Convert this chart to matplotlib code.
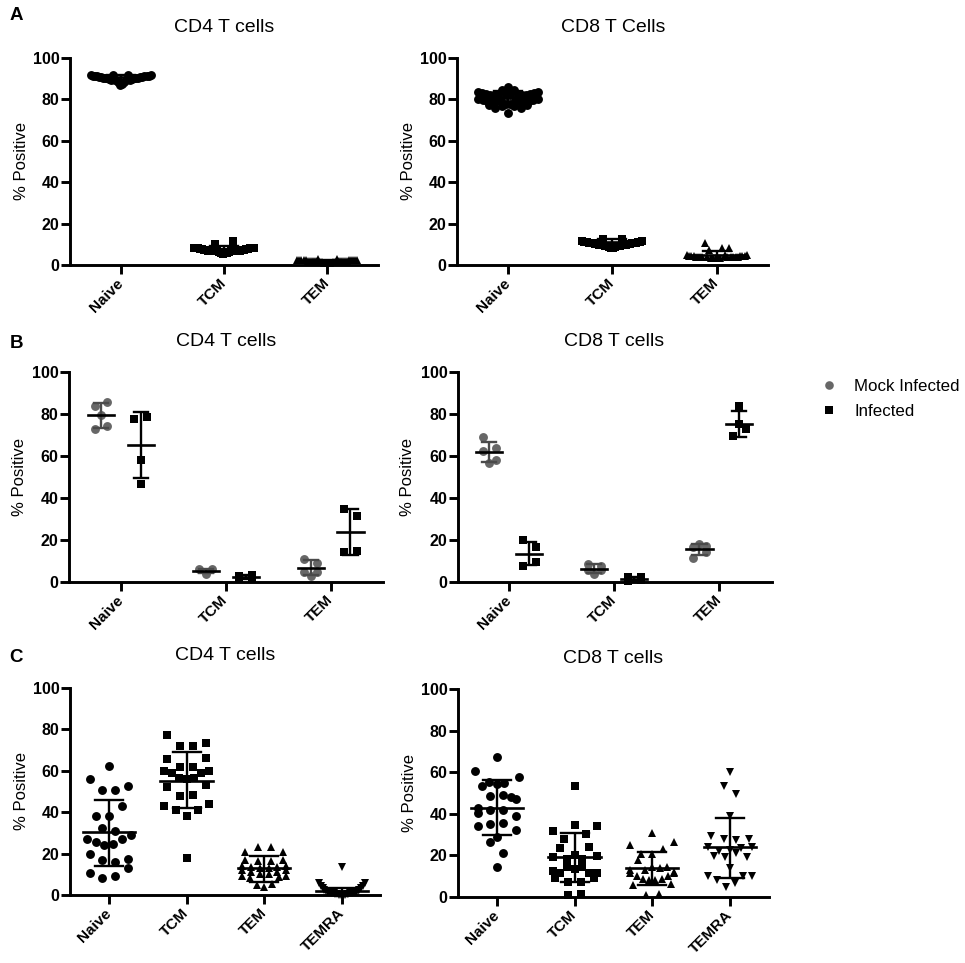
#!/usr/bin/env python3
"""T cell memory subsets: % positive scatter panels A, B, C (Prism style)."""

import matplotlib
matplotlib.use("Agg")
import matplotlib.pyplot as plt
from matplotlib.lines import Line2D

plt.rcParams["font.family"] = ["Liberation Sans", "DejaVu Sans"]

W, H = 965, 963
GRAY = "#676767"
BLACK = "#000000"

# ── Data: each group is a list of rows, listed from the middle of the row out ──
subsets_3 = ["Naive", "TCM", "TEM"]
subsets_4 = ["Naive", "TCM", "TEM", "TEMRA"]
y_ticks = [0, 20, 40, 60, 80, 100]
legend_labels = ["Mock Infected", "Infected"]

a_cd4_naive = [[87, 87.5, 88.5, 88.5, 89.2, 89.2, 92, 92, 89.6, 89.6, 89.9, 89.9, 90.1, 90.1, 90.3, 90.3,
                90.5, 90.5, 90.7, 90.7, 90.9, 90.9, 91.1, 91.1, 91.3, 91.3, 91.5, 91.5, 91.7, 91.7]]
a_cd4_tcm = [[5.4, 5.6, 5.8, 5.8, 6.2, 6.2, 6.6, 6.6, 10, 11.4, 6.6, 6.6, 6.8, 6.8, 7, 7,
              7.2, 7.2, 7.4, 7.4, 7.6, 7.6, 7.8, 7.8, 8, 8, 8.2, 8.2, 8.4, 8.4]]
a_cd4_tem = [[1, 1, 1.2, 1.2, 1.4, 1.4, 1.6, 1.6, 3, 3, 1.7, 1.7, 1.8, 1.8, 1.9, 1.9,
              2, 2, 2.1, 2.1, 2.2, 2.2, 2.3, 2.3, 2.4, 2.4, 2.5, 2.5, 2.6, 2.6]]
a_cd4_mean = [90.6, 7.7, 1.9]
a_cd4_high = [92, 9, 2.5]
a_cd4_low = [89, 6.5, 1.3]

a_cd8_naive = [[86], [82, 82, 84.5, 84.5, 82, 82, 82, 82, 82, 82, 82.5, 82.5, 83, 83, 83.5, 83.5],
               [78, 78, 79, 79, 79, 79, 79, 79, 79, 79, 79.5, 79.5, 80, 80],
               [77, 77, 77.5, 77.5], [73.5, 76, 76]]
a_cd8_tcm = [[8.2, 8.2, 8.5, 8.5, 9, 9, 9.4, 9.4, 12.7, 12.7, 9.6, 9.6, 9.8, 9.8, 10, 10,
              10.2, 10.2, 10.4, 10.4, 10.6, 10.6, 10.8, 10.8, 11, 11, 11.3, 11.3, 11.7, 11.7]]
a_cd8_tem = [[3.4, 3.4, 3.5, 3.5, 3.6, 8, 7.2, 5, 3.7, 3.7, 10.6, 8, 3.8, 3.8, 3.9, 3.9,
              4, 4, 4.1, 4.1, 4.2, 4.2, 4.3, 4.3, 4.5, 4.5, 4.8, 4.8]]
a_cd8_mean = [81, 11, 5]
a_cd8_high = [84, 12.5, 7]
a_cd8_low = [78, 9.5, 3]

b_cd4_mock = [[[79.6], [83.9, 85.5], [72.9, 74.4]],
              [[6.2, 6.2], [4]],
              [[10.8, 9], [4.8, 4.8], [2.7]]]
b_cd4_inf = [[[77.4, 78.8], [58.1], [46.7]],
             [[2.7, 3.2], [1.5, 1.7]],
             [[34.9, 31.5], [14.3, 14.8]]]
b_cd4_mock_mean = [79.3, 5.3, 6.7]
b_cd4_mock_high = [85.2, 6, 10.3]
b_cd4_mock_low = [73.2, 4.5, 3.5]
b_cd4_inf_mean = [65.3, 2.5, 23.8]
b_cd4_inf_high = [81, 3.5, 34.9]
b_cd4_inf_low = [49.5, 1.3, 12.7]

b_cd8_mock = [[[69, 63.7], [62.6, 58.1], [56.5]],
              [[8.8, 7.5], [5.5, 5.5], [4]],
              [[18], [16.7, 17], [11.6, 14.3]]]
b_cd8_inf = [[[19.9, 16.7], [7.5, 9.6]],
             [[2.4, 2.4], [0.5, 0.8]],
             [[83.6], [75.3], [69.3, 72.8]]]
b_cd8_mock_mean = [62, 6.4, 15.5]
b_cd8_mock_high = [66.9, 8.5, 18]
b_cd8_mock_low = [57.3, 4.5, 13]
b_cd8_inf_mean = [13.3, 1.4, 75.3]
b_cd8_inf_high = [19, 2.4, 81.5]
b_cd8_inf_low = [8, 0.5, 69]

c_cd4_naive = [[62.5], [50.5, 50.5, 56, 52.5], [38, 38, 43], [32.5, 31],
               [24, 24.5, 25.5, 27, 27, 29], [17, 16, 20, 17.5], [8, 9, 10.5, 13]]
c_cd4_tcm = [[18], [38.3, 41, 41, 43, 43.9], [47.7, 48.4, 52, 53],
             [55.8, 56.6, 56.6, 58.7, 58.7, 59.8, 59.8], [62, 62, 65.6, 66.4], [71.9, 71.9, 77.5, 73.2]]
c_cd4_tem = [[23.3, 23.3, 20.9, 20.9], [16.5, 16.5, 17, 17], [13, 13, 13.5, 13.5, 14, 14],
             [10, 10, 11, 11, 12, 12], [3.7, 4.8, 5.3, 8, 8.5, 9, 9]]
c_cd4_temra = [[13.7], [0, 0, 0.2, 0.2, 0.4, 0.4, 0.6, 0.6, 0.8, 0.8, 1, 1, 1.3, 1.3,
                        1.6, 1.6, 2, 2, 2.5, 2.5, 3.2, 3.2, 4.2, 4.2, 5.6, 5.6]]
c_cd4_mean = [30.2, 55.3, 13, 1.8]
c_cd4_high = [45.8, 69, 19, 3.6]
c_cd4_low = [14.1, 42, 6.4, 0]

c_cd8_naive = [[67.2], [54.3, 55.3, 55, 53.5, 48.2, 60.5, 57.7], [48.6, 49, 43, 47.3],
               [42, 42, 40.2, 39], [35, 35.4, 34, 32.2], [29], [26.5, 21.2], [14.5]]
c_cd8_tcm = [[53.4], [34.6, 27.7, 30.5, 31.8, 34], [20, 18.5, 18.5, 23.6, 23.8, 19.3, 19.5],
             [13.7, 14.5, 14.5, 11.7, 11.7, 12.4, 11.7], [7.2, 7.2, 9, 9.3], [0.8, 1.6]]
c_cd8_tem = [[31], [20.9, 20.9, 23.3, 24.9, 26.5], [14.5, 13, 14, 17.7, 14.5, 12.9, 12],
             [8, 8, 8.5, 8.5, 10, 10, 11.5, 11.5], [0.8, 1.6, 6, 6.4]]
c_cd8_temra = [[60.3], [53.5, 49.5], [38.9], [27.7, 27.3, 29.3, 27.7],
               [22.8, 19, 21, 22, 23.6, 19.6, 19.3, 24, 24], [14.1],
               [4.8, 6.8, 8.4, 10, 10, 10.3]]
c_cd8_mean = [43, 19.3, 13.9, 23.8]
c_cd8_high = [56.3, 31, 21.7, 38]
c_cd8_low = [30, 7.2, 6, 9.2]


def fan(rows, step_px, max_px):
    """Prism-like spread: each row is symmetric, entries go middle first, then left/right."""
    xs, ys = [], []
    for row in rows:
        n = len(row)
        s = step_px if n < 2 else min(step_px, max_px / (n - 1))
        for i, v in enumerate(row):
            if n % 2:
                k = (i + 1) // 2
                off = 0 if i == 0 else (-k * s if i % 2 else k * s)
            else:
                k = i // 2 + 0.5
                off = -k * s if i % 2 == 0 else k * s
            xs.append(off)
            ys.append(v)
    return xs, ys


def make_axes(left, right, top, bottom, xlim, labels, ylab_x):
    ax = fig.add_axes([left / W, 1 - bottom / H, (right - left) / W, (bottom - top) / H])
    ax.set_xlim(*xlim)
    ax.set_ylim(0, 100)
    for side in ("top", "right"):
        ax.spines[side].set_visible(False)
    for side in ("left", "bottom"):
        ax.spines[side].set_linewidth(2.1)
    ax.set_xticks(range(1, len(labels) + 1))
    ax.set_xticklabels(labels, rotation=45, ha="right", va="center", rotation_mode="anchor",
                       fontsize=11, fontweight="bold")
    ax.set_yticks(y_ticks)
    ax.tick_params(axis="x", length=6.5, width=2.1, pad=5)
    ax.tick_params(axis="y", length=6.5, width=2.1, pad=1, labelsize=11.5)
    for t in ax.get_yticklabels():
        t.set_fontweight("bold")
    ax.set_ylabel("% Positive", fontsize=12)
    # anchor is the right side of the rotated text, so add half its height
    ax.yaxis.set_label_coords((ylab_x + 10 - left) / (right - left), 0.5)
    return ax


def draw_group(ax, x0, rows, mean, high, low, marker, color, err_color, unit,
               step=12.7, max_px=44, mean_hw=26, cap_hw=14, ms=6.4):
    off, vals = fan(rows, step, max_px)
    xs = [x0 + o / unit for o in off]
    ax.plot(xs, vals, ls="none", marker=marker, ms=ms, mfc=color, mec=color, mew=0,
            clip_on=False, zorder=3)
    ax.plot([x0, x0], [low, high], color=err_color, lw=1.7, solid_capstyle="butt", zorder=4)
    for y in (low, high):
        ax.plot([x0 - cap_hw / unit, x0 + cap_hw / unit], [y, y], color=err_color, lw=1.7,
                clip_on=False, zorder=4)
    ax.plot([x0 - mean_hw / unit, x0 + mean_hw / unit], [mean, mean], color=BLACK, lw=1.9,
            clip_on=False, zorder=5)


def label_px(x, y, text, **kw):
    fig.text(x / W, 1 - y / H, text, ha="center", va="center", **kw)


fig = plt.figure(figsize=(W / 100, H / 100), dpi=100)

# ── Panel A ───────────────────────────────────────────────────────────────────
ax = make_axes(70, 378, 58, 265, (0.51, 3.49), subsets_3, 19)
for i, (rows, m) in enumerate(zip([a_cd4_naive, a_cd4_tcm, a_cd4_tem], ["o", "s", "^"])):
    draw_group(ax, i + 1, rows, a_cd4_mean[i], a_cd4_high[i], a_cd4_low[i], m, BLACK, BLACK, 103.3,
               step=3, max_px=60)

ax = make_axes(457, 768, 58, 265, (0.512, 3.49), subsets_3, 406)
for i, (rows, m) in enumerate(zip([a_cd8_naive, a_cd8_tcm, a_cd8_tem], ["o", "s", "^"])):
    draw_group(ax, i + 1, rows, a_cd8_mean[i], a_cd8_high[i], a_cd8_low[i], m, BLACK, BLACK, 104.5,
               step=12.7 if i == 0 else 3, max_px=60)

# ── Panel B ───────────────────────────────────────────────────────────────────
SHIFT = 0.19
ax = make_axes(69, 383, 372, 582, (0.506, 3.5), subsets_3, 17)
for i in range(3):
    draw_group(ax, i + 1 - SHIFT, b_cd4_mock[i], b_cd4_mock_mean[i], b_cd4_mock_high[i],
               b_cd4_mock_low[i], "o", GRAY, "#4a4a4a", 104.6, mean_hw=13, cap_hw=7)
    draw_group(ax, i + 1 + SHIFT, b_cd4_inf[i], b_cd4_inf_mean[i], b_cd4_inf_high[i],
               b_cd4_inf_low[i], "s", BLACK, BLACK, 104.6, mean_hw=13, cap_hw=7)

ax = make_axes(458, 772, 372, 582, (0.512, 3.5), subsets_3, 405)
for i in range(3):
    draw_group(ax, i + 1 - SHIFT, b_cd8_mock[i], b_cd8_mock_mean[i], b_cd8_mock_high[i],
               b_cd8_mock_low[i], "o", GRAY, "#4a4a4a", 104.6, mean_hw=13, cap_hw=7)
    draw_group(ax, i + 1 + SHIFT, b_cd8_inf[i], b_cd8_inf_mean[i], b_cd8_inf_high[i],
               b_cd8_inf_low[i], "s", BLACK, BLACK, 104.6, mean_hw=13, cap_hw=7)

handles = [Line2D([], [], ls="none", marker="o", ms=6.2, mfc=GRAY, mec=GRAY, mew=0),
           Line2D([], [], ls="none", marker="s", ms=5.8, mfc=BLACK, mec=BLACK, mew=0)]
fig.legend(handles, legend_labels, loc="center left", bbox_to_anchor=(818 / W, 1 - 399 / H),
           frameon=False, fontsize=12.2, handletextpad=0.85, labelspacing=0.55, borderpad=0,
           borderaxespad=0, handlelength=1.3)

# ── Panel C ───────────────────────────────────────────────────────────────────
ax = make_axes(70, 380, 688, 895, (0.5, 4.49), subsets_4, 19)
for i, (rows, m) in enumerate(zip([c_cd4_naive, c_cd4_tcm, c_cd4_tem, c_cd4_temra],
                                  ["o", "s", "^", "v"])):
    draw_group(ax, i + 1, rows, c_cd4_mean[i], c_cd4_high[i], c_cd4_low[i], m, BLACK, BLACK, 77.5,
               max_px=46 if i == 3 else 44)

ax = make_axes(458, 769, 689, 897, (0.502, 4.5), subsets_4, 407)
for i, (rows, m) in enumerate(zip([c_cd8_naive, c_cd8_tcm, c_cd8_tem, c_cd8_temra],
                                  ["o", "s", "^", "v"])):
    draw_group(ax, i + 1, rows, c_cd8_mean[i], c_cd8_high[i], c_cd8_low[i], m, BLACK, BLACK, 77.7)

# ── Titles and panel letters ──────────────────────────────────────────────────
label_px(224, 27, "CD4 T cells", fontsize=14)
label_px(613, 27, "CD8 T Cells", fontsize=14)
label_px(226, 341, "CD4 T cells", fontsize=14)
label_px(614, 341, "CD8 T cells", fontsize=14)
label_px(225, 656, "CD4 T cells", fontsize=14)
label_px(613, 658, "CD8 T cells", fontsize=14)
label_px(16.5, 15, "A", fontsize=13.5, fontweight="bold")
label_px(16.5, 343, "B", fontsize=13.5, fontweight="bold")
label_px(16.5, 657, "C", fontsize=13.5, fontweight="bold")

fig.savefig("out.png", dpi=100)
